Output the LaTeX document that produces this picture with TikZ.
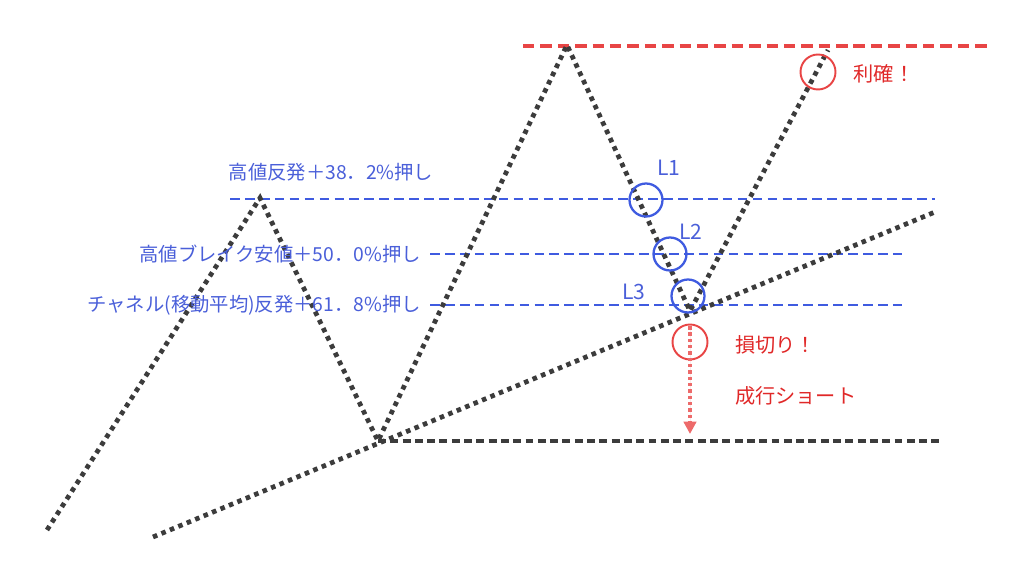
\documentclass[tikz,border=0pt]{standalone}
\usepackage{fontspec}
\setmainfont{Noto Sans CJK JP}
\usepackage{xcolor}
\usetikzlibrary{arrows.meta}
\definecolor{lineblue}{HTML}{3F5BE0}
\definecolor{textblue}{HTML}{4A5FD9}
\definecolor{linered}{HTML}{E84545}
\definecolor{textred}{HTML}{E02828}
\definecolor{dotgray}{HTML}{3C3C3C}

\tikzset{
  pricepath/.style={draw=dotgray,line width=2.7pt,dash pattern=on 2.6pt off 2.6pt},
  levelline/.style={draw=lineblue,line width=1.5pt,dash pattern=on 5.5pt off 3pt},
  levelmark/.style={circle,draw=lineblue,line width=1.3pt,minimum size=0.66cm,inner sep=0pt},
  redmark/.style={circle,draw=linered,line width=1.1pt,minimum size=0.7cm,inner sep=0pt},
  bluetext/.style={text=textblue,font=\fontsize{11}{13}\selectfont,inner sep=1pt},
  redtext/.style={text=textred,font=\fontsize{11.5}{14}\selectfont,inner sep=1pt}
}

\begin{document}
\begin{tikzpicture}[x=0.02cm,y=-0.02cm]
\useasboundingbox (0,0) rectangle (1019,567);

% price swings
\coordinate (p0) at (47,530);
\coordinate (p1) at (260,198);
\coordinate (p2) at (378,441);
\coordinate (p3) at (567,45);
\coordinate (p4) at (690,311);
\coordinate (p5) at (828,50);

% trend line ends
\coordinate (t0) at (153,537);
\coordinate (t1) at (935,212);

% level line ends
\coordinate (top0) at (523,46);
\coordinate (top1) at (990,46);
\coordinate (a0) at (230,199);
\coordinate (a1) at (935,199);
\coordinate (b0) at (430,254);
\coordinate (b1) at (902,254);
\coordinate (c0) at (430,305);
\coordinate (c1) at (902,305);
\coordinate (low1) at (942,441);

\draw[draw=linered,line width=2.4pt,dash pattern=on 6.5pt off 3.4pt] (top0) -- (top1);
\draw[levelline] (a0) -- (a1);
\draw[levelline] (b0) -- (b1);
\draw[levelline] (c0) -- (c1);
\draw[draw=dotgray,line width=1.8pt,dash pattern=on 4.5pt off 2.5pt] (p2) -- (low1);

\draw[pricepath] (t0) -- (t1);
\draw[pricepath] (p0) -- (p1) -- (p2) -- (p3) -- (p4) -- (p5);

% labels of the levels
\node[bluetext] (lab1) at (331,172) {高値反発＋38．2\%押し};
\node[bluetext,anchor=east] (lab2) at (423,254) {高値ブレイク安値＋50．0\%押し};
\node[bluetext,anchor=east] (lab3) at (423,305) {チャネル(移動平均)反発＋61．8\%押し};

% entries
\node[levelmark] (l1) at (646,200) {};
\node[levelmark] (l2) at (670,254) {};
\node[levelmark] (l3) at (688,296) {};
\node[bluetext,font=\fontsize{12}{14}\selectfont] (n1) at (669,168) {L1};
\node[bluetext,font=\fontsize{12}{14}\selectfont] (n2) at (691,232) {L2};
\node[bluetext,font=\fontsize{12}{14}\selectfont] (n3) at (634,292) {L3};

% take profit
\node[redmark] (tp) at (818,72) {};
\node[redtext] (tptext) at (884,74) {利確！};

% stop loss
\node[redmark] (sl) at (690,342) {};
\node[redtext,anchor=west] (sltext) at (733,345) {損切り！};
\node[redtext,anchor=west] (shorttext) at (733,396) {成行ショート};
\coordinate (slend) at (690,434);
\draw[-{Triangle[length=7pt,width=7pt]},draw=linered!80,fill=linered!90,line width=2.4pt,dash pattern=on 2pt off 1.6pt] (sl.center) ++(0,-16) -- (slend);
\end{tikzpicture}
\end{document}
